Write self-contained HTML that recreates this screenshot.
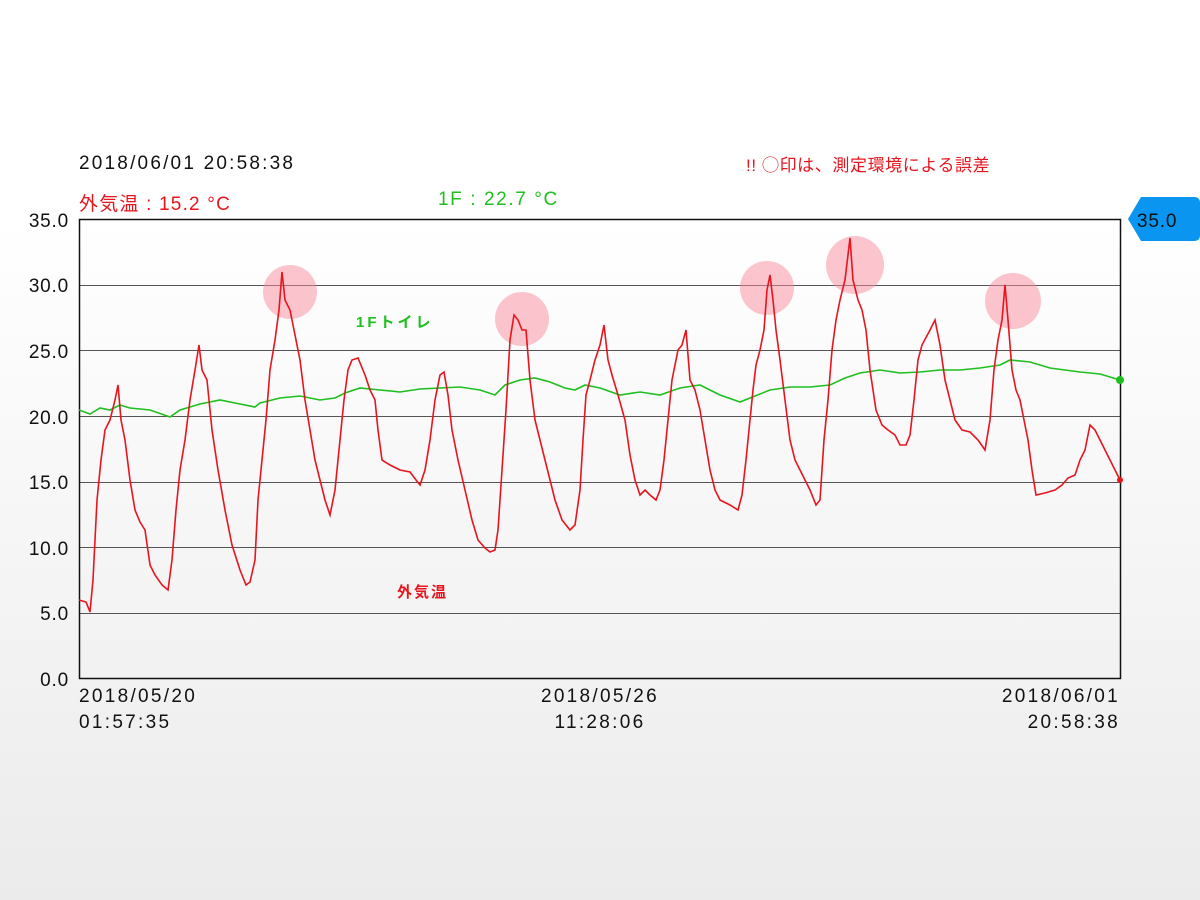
<!DOCTYPE html>
<html><head><meta charset="utf-8"><style>
html,body{margin:0;padding:0}
body{width:1200px;height:900px;overflow:hidden;background:linear-gradient(#fff 0px,#fff 220px,#ebebeb 900px);font-family:"Liberation Sans","Noto Sans CJK JP",sans-serif;position:relative}
.t{position:absolute;white-space:nowrap;font-size:19px}
</style></head><body>
<div class="t" style="left:79px;top:153px;color:#111;letter-spacing:2.2px">2018/06/01 20:58:38</div>
<div class="t" style="left:79px;top:189px;color:#e8141e;letter-spacing:1.2px">外気温 : 15.2 °C</div>
<div class="t" style="left:438px;top:189px;color:#1ebf1e;letter-spacing:1.6px">1F : 22.7 °C</div>
<div class="t" style="left:746px;top:151px;color:#e8141e;font-size:17px;letter-spacing:0.6px">!! ◯印は、測定環境による誤差</div>
<svg width="1200" height="900" style="position:absolute;left:0;top:0">
<g stroke="#555" stroke-width="1">
<line x1="79" x2="1120" y1="285.5" y2="285.5"/><line x1="79" x2="1120" y1="350.5" y2="350.5"/><line x1="79" x2="1120" y1="416.5" y2="416.5"/><line x1="79" x2="1120" y1="482.5" y2="482.5"/><line x1="79" x2="1120" y1="547.5" y2="547.5"/><line x1="79" x2="1120" y1="613.5" y2="613.5"/>
</g>
<rect x="79.5" y="219.5" width="1041" height="459" fill="none" stroke="#111" stroke-width="1.5"/>
<g font-size="19" fill="#111" text-anchor="end" letter-spacing="0.8">
<text x="69" y="227">35.0</text><text x="69" y="292">30.0</text><text x="69" y="358">25.0</text><text x="69" y="424">20.0</text><text x="69" y="489">15.0</text><text x="69" y="555">10.0</text><text x="69" y="620">5.0</text><text x="69" y="686">0.0</text>
</g>
<g font-size="19" fill="#111" letter-spacing="2.3">
<text x="79" y="702">2018/05/20</text><text x="79" y="728">01:57:35</text>
<text x="600" y="702" text-anchor="middle">2018/05/26</text><text x="600" y="728" text-anchor="middle">11:28:06</text>
<text x="1120" y="702" text-anchor="end">2018/06/01</text><text x="1120" y="728" text-anchor="end">20:58:38</text>
</g>
<g fill="rgba(250,140,155,0.5)">
<circle cx="290" cy="292" r="27"/><circle cx="522" cy="319" r="27"/><circle cx="767" cy="288" r="27"/><circle cx="855" cy="265" r="29"/><circle cx="1013" cy="301" r="28"/>
</g>
<polyline fill="none" stroke="#1ebf1e" stroke-width="1.6" points="79,410 90,414 100,408 110,410 120,405 130,408 150,410 170,417 180,410 200,404 220,400 240,404 255,407 260,403 280,398 300,396 320,400 335,398 345,393 360,388 380,390 400,392 420,389 440,388 460,387 480,390 495,395 505,385 520,380 535,378 550,382 565,388 575,390 585,385 600,388 620,395 640,392 660,395 680,388 700,385 720,395 740,402 750,398 770,390 790,387 810,387 830,385 845,378 860,373 880,370 900,373 920,372 940,370 960,370 980,368 1000,365 1010,360 1030,362 1050,368 1080,372 1100,374 1120,380"/>
<circle cx="1120" cy="380" r="4" fill="#1ebf1e"/>
<polyline fill="none" stroke="#e8141e" stroke-width="1.6" points="79,600 86,602 90,612 93,580 97,500 101,460 105,430 110,420 115,400 118,385 121,420 125,440 130,480 135,510 140,522 145,530 150,565 155,575 162,585 168,590 172,560 176,510 180,470 185,440 190,400 195,370 199,345 202,370 207,380 212,430 218,470 225,510 232,545 240,570 246,585 250,582 255,560 258,500 262,460 266,420 270,370 275,340 279,310 282,272 285,300 290,310 295,335 300,360 305,400 310,430 315,460 320,480 325,500 330,515 335,490 340,440 344,400 348,370 352,360 358,358 365,375 370,390 375,400 378,430 382,460 390,465 400,470 410,472 416,480 420,485 425,470 430,440 435,400 440,375 444,372 448,395 452,430 458,460 465,490 472,520 478,540 485,548 490,552 495,550 498,530 502,470 506,410 510,340 514,315 518,320 522,330 526,330 530,380 535,420 540,440 545,460 550,480 555,500 562,520 570,530 575,525 580,490 583,440 586,395 590,380 595,360 600,345 604,325 608,360 612,375 618,395 625,420 630,455 635,480 640,495 645,490 650,495 656,500 660,490 664,460 668,420 672,380 678,350 682,345 686,330 690,380 695,390 700,410 705,440 710,470 715,490 720,500 730,505 738,510 742,495 746,460 750,420 753,390 756,365 760,350 764,330 767,290 770,275 773,300 776,330 780,360 785,400 790,440 795,460 800,470 805,480 810,490 816,505 820,500 824,440 828,400 832,350 836,320 840,300 845,280 850,238 853,280 858,300 862,310 866,330 870,370 876,410 882,425 888,430 895,435 900,445 906,445 910,435 914,400 918,360 922,345 930,330 935,320 940,345 945,380 950,400 955,420 962,430 970,432 978,440 985,450 990,420 994,370 998,340 1002,320 1005,285 1008,320 1012,370 1016,390 1020,400 1024,420 1028,440 1032,470 1036,495 1045,493 1055,490 1062,485 1068,478 1075,475 1080,460 1085,450 1090,425 1095,430 1100,440 1105,450 1110,460 1115,470 1120,480"/>
<circle cx="1120" cy="480" r="3" fill="#e8141e"/>
<text x="356" y="327" font-size="15" font-weight="bold" fill="#1ebf1e" letter-spacing="3">1Fトイレ</text>
<text x="397" y="597" font-size="15" font-weight="bold" fill="#e8141e" letter-spacing="2">外気温</text>
<path d="M1128,219 L1141,197 L1194,197 Q1200,197 1200,203 L1200,235 Q1200,241 1194,241 L1141,241 Z" fill="#0a96f0"/>
<text x="1137" y="227" font-size="19" fill="#111" letter-spacing="0.8">35.0</text>
</svg>
</body></html>
